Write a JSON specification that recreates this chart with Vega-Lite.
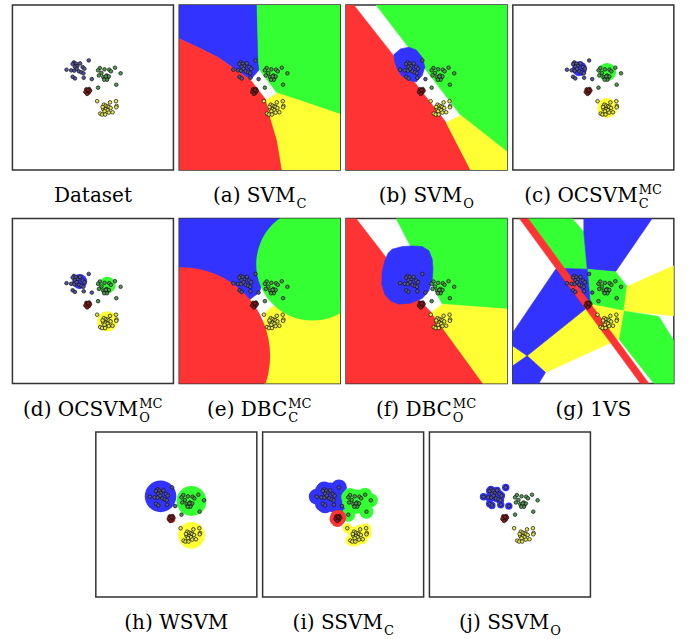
{
"$schema": "https://vega.github.io/schema/vega-lite/v6.json",
"padding": {"left": 11, "top": 4, "right": 0, "bottom": 0},
"background": "white",
"spacing": 5.5,
"center": true,
"config": {"view": {"stroke": "#333", "strokeWidth": 1.5}},
"datasets": {
"pts": [
{"c":"b","x":47.4,"y":33.6},{"c":"b","x":38.2,"y":34.8},{"c":"b","x":37.4,"y":35.8},{"c":"b","x":39.5,"y":35.6},{"c":"b","x":42.0,"y":35.4},{"c":"b","x":40.3,"y":37.0},{"c":"b","x":38.8,"y":37.4},{"c":"b","x":43.6,"y":37.6},{"c":"b","x":44.7,"y":38.6},{"c":"b","x":33.6,"y":39.2},{"c":"b","x":36.5,"y":39.6},{"c":"b","x":38.4,"y":39.8},{"c":"b","x":39.9,"y":38.6},{"c":"b","x":41.3,"y":40.2},{"c":"b","x":42.8,"y":40.8},{"c":"b","x":44.1,"y":41.4},{"c":"b","x":37.4,"y":43.5},{"c":"b","x":38.8,"y":44.5},{"c":"b","x":44.3,"y":44.1},{"c":"b","x":49.3,"y":44.9},
{"c":"g","x":54.3,"y":38.2},{"c":"g","x":53.2,"y":39.6},{"c":"g","x":57.2,"y":39.0},{"c":"g","x":60.1,"y":39.2},{"c":"g","x":61.2,"y":40.2},{"c":"g","x":63.7,"y":38.0},{"c":"g","x":67.2,"y":41.4},{"c":"g","x":55.3,"y":41.2},{"c":"g","x":53.7,"y":42.7},{"c":"g","x":56.4,"y":43.7},{"c":"g","x":57.4,"y":44.7},{"c":"g","x":58.5,"y":42.7},{"c":"g","x":59.1,"y":44.1},{"c":"g","x":59.9,"y":43.3},{"c":"g","x":58.0,"y":43.3},{"c":"g","x":58.7,"y":45.3},{"c":"g","x":57.0,"y":45.3},{"c":"g","x":64.5,"y":48.3},{"c":"g","x":53.2,"y":50.1},
{"c":"r","x":45.9,"y":51.1},{"c":"r","x":47.6,"y":50.9},{"c":"r","x":46.6,"y":52.1},{"c":"r","x":45.3,"y":52.7},{"c":"r","x":47.4,"y":53.1},{"c":"r","x":46.4,"y":53.9},{"c":"r","x":48.2,"y":51.9},{"c":"r","x":47.0,"y":51.5},
{"c":"y","x":52.6,"y":58.3},{"c":"y","x":60.6,"y":59.0},{"c":"y","x":64.3,"y":58.3},{"c":"y","x":56.8,"y":60.4},{"c":"y","x":58.0,"y":61.0},{"c":"y","x":59.1,"y":61.4},{"c":"y","x":59.9,"y":61.8},{"c":"y","x":61.0,"y":62.4},{"c":"y","x":64.7,"y":61.2},{"c":"y","x":64.5,"y":62.0},{"c":"y","x":56.4,"y":63.0},{"c":"y","x":58.0,"y":63.2},{"c":"y","x":59.1,"y":63.8},{"c":"y","x":57.2,"y":64.4},{"c":"y","x":54.5,"y":65.8},{"c":"y","x":55.7,"y":66.4},{"c":"y","x":59.9,"y":65.2},{"c":"y","x":62.2,"y":65.0},{"c":"y","x":57.6,"y":66.4},{"c":"y","x":56.0,"y":61.8}
],
"circ": [
{"p":"c","c":"b","x":41.4,"y":38.6,"r":4.6},{"p":"c","c":"g","x":58.6,"y":40.6,"r":5.6},{"p":"c","c":"y","x":58.6,"y":62.4,"r":6.2},{"p":"c","c":"r","x":46.8,"y":52.7,"r":1.8},
{"p":"d","c":"b","x":41.8,"y":38.2,"r":4.6},{"p":"d","c":"g","x":58.9,"y":40.4,"r":5.2},{"p":"d","c":"y","x":58.9,"y":62.4,"r":6.3},{"p":"d","c":"r","x":47.0,"y":52.5,"r":1.9},
{"p":"e","c":"r","x":1.45,"y":83.2,"r":55},{"p":"e","c":"g","x":82.8,"y":27.7,"r":35},
{"p":"h","c":"b","x":40.2,"y":39.0,"r":9.8},{"p":"h","c":"g","x":59.4,"y":41.8,"r":9.3},{"p":"h","c":"y","x":59.4,"y":62.6,"r":8.3},{"p":"h","c":"r","x":46.9,"y":52.7,"r":2.5}
],
"cap": [
{"p":"ds","t":"Dataset","sub":"","sup":""},
{"p":"a","t":"(a) SVM","sub":"C","sup":""},
{"p":"b","t":"(b) SVM","sub":"O","sup":""},
{"p":"c","t":"(c) OCSVM","sub":"C","sup":"MC"},
{"p":"d","t":"(d) OCSVM","sub":"O","sup":"MC"},
{"p":"e","t":"(e) DBC","sub":"C","sup":"MC"},
{"p":"f","t":"(f) DBC","sub":"O","sup":"MC"},
{"p":"g","t":"(g) 1VS","sub":"","sup":""},
{"p":"h","t":"(h) WSVM","sub":"","sup":""},
{"p":"i","t":"(i) SSVM","sub":"C","sup":""},
{"p":"j","t":"(j) SSVM","sub":"O","sup":""}
],
"poly": [
{"p":"a","id":"a1","c":"b","o":0,"x":0,"y":0},{"p":"a","id":"a1","c":"b","o":1,"x":48.3,"y":0},{"p":"a","id":"a1","c":"b","o":2,"x":48.8,"y":17.5},{"p":"a","id":"a1","c":"b","o":3,"x":49.2,"y":33.6},{"p":"a","id":"a1","c":"b","o":4,"x":49.8,"y":39.2},{"p":"a","id":"a1","c":"b","o":5,"x":44.2,"y":45.3},{"p":"a","id":"a1","c":"b","o":6,"x":34.2,"y":38.6},{"p":"a","id":"a1","c":"b","o":7,"x":23.9,"y":31.6},{"p":"a","id":"a1","c":"b","o":8,"x":11.4,"y":25.6},{"p":"a","id":"a1","c":"b","o":9,"x":0,"y":20.5},
{"p":"a","id":"a2","c":"g","o":0,"x":48.3,"y":0},{"p":"a","id":"a2","c":"g","o":1,"x":100,"y":0},{"p":"a","id":"a2","c":"g","o":2,"x":100,"y":66.2},{"p":"a","id":"a2","c":"g","o":3,"x":77.8,"y":58.8},{"p":"a","id":"a2","c":"g","o":4,"x":60.8,"y":53.3},{"p":"a","id":"a2","c":"g","o":5,"x":49.8,"y":39.2},{"p":"a","id":"a2","c":"g","o":6,"x":49.2,"y":33.6},{"p":"a","id":"a2","c":"g","o":7,"x":48.8,"y":17.5},
{"p":"a","id":"a3","c":"r","o":0,"x":0,"y":20.5},{"p":"a","id":"a3","c":"r","o":1,"x":11.4,"y":25.6},{"p":"a","id":"a3","c":"r","o":2,"x":23.9,"y":31.6},{"p":"a","id":"a3","c":"r","o":3,"x":34.2,"y":38.6},{"p":"a","id":"a3","c":"r","o":4,"x":44.2,"y":45.3},{"p":"a","id":"a3","c":"r","o":5,"x":54,"y":57.7},{"p":"a","id":"a3","c":"r","o":6,"x":57.1,"y":69.8},{"p":"a","id":"a3","c":"r","o":7,"x":60.8,"y":81.9},{"p":"a","id":"a3","c":"r","o":8,"x":63.9,"y":100},{"p":"a","id":"a3","c":"r","o":9,"x":0,"y":100},
{"p":"a","id":"a4","c":"y","o":0,"x":54,"y":57.7},{"p":"a","id":"a4","c":"y","o":1,"x":60.8,"y":53.3},{"p":"a","id":"a4","c":"y","o":2,"x":77.8,"y":58.8},{"p":"a","id":"a4","c":"y","o":3,"x":100,"y":66.2},{"p":"a","id":"a4","c":"y","o":4,"x":100,"y":100},{"p":"a","id":"a4","c":"y","o":5,"x":63.9,"y":100},{"p":"a","id":"a4","c":"y","o":6,"x":60.8,"y":81.9},{"p":"a","id":"a4","c":"y","o":7,"x":57.1,"y":69.8},
{"p":"b","id":"b1","c":"r","o":0,"x":0,"y":0},{"p":"b","id":"b1","c":"r","o":1,"x":4.8,"y":0},{"p":"b","id":"b1","c":"r","o":2,"x":62.3,"y":71.4},{"p":"b","id":"b1","c":"r","o":3,"x":77.4,"y":100},{"p":"b","id":"b1","c":"r","o":4,"x":0,"y":100},
{"p":"b","id":"b2","c":"g","o":0,"x":18.7,"y":0},{"p":"b","id":"b2","c":"g","o":1,"x":100,"y":0},{"p":"b","id":"b2","c":"g","o":2,"x":100,"y":88.9},{"p":"b","id":"b2","c":"g","o":3,"x":71.2,"y":66.8},
{"p":"b","id":"b3","c":"y","o":0,"x":62.3,"y":71.4},{"p":"b","id":"b3","c":"y","o":1,"x":71.2,"y":66.8},{"p":"b","id":"b3","c":"y","o":2,"x":100,"y":88.9},{"p":"b","id":"b3","c":"y","o":3,"x":100,"y":100},{"p":"b","id":"b3","c":"y","o":4,"x":77.4,"y":100},
{"p":"b","id":"b4","c":"b","o":0,"x":29.7,"y":30.0},{"p":"b","id":"b4","c":"b","o":1,"x":33.8,"y":26.6},{"p":"b","id":"b4","c":"b","o":2,"x":39.0,"y":25.6},{"p":"b","id":"b4","c":"b","o":3,"x":43.6,"y":27.2},{"p":"b","id":"b4","c":"b","o":4,"x":47.3,"y":31.6},{"p":"b","id":"b4","c":"b","o":5,"x":49.0,"y":37.6},{"p":"b","id":"b4","c":"b","o":6,"x":47.3,"y":42.7},{"p":"b","id":"b4","c":"b","o":7,"x":43.6,"y":46.7},{"p":"b","id":"b4","c":"b","o":8,"x":39.0,"y":45.7},{"p":"b","id":"b4","c":"b","o":9,"x":34.4,"y":42.7},{"p":"b","id":"b4","c":"b","o":10,"x":31.7,"y":38.6},{"p":"b","id":"b4","c":"b","o":11,"x":30.3,"y":34.6},
{"p":"e","id":"e1","c":"b","o":0,"x":0,"y":0},{"p":"e","id":"e1","c":"b","o":1,"x":62,"y":0},{"p":"e","id":"e1","c":"b","o":2,"x":55,"y":30},{"p":"e","id":"e1","c":"b","o":3,"x":49.7,"y":44.8},{"p":"e","id":"e1","c":"b","o":4,"x":45.5,"y":47.9},{"p":"e","id":"e1","c":"b","o":5,"x":30,"y":60},{"p":"e","id":"e1","c":"b","o":6,"x":0,"y":60},
{"p":"e","id":"e2","c":"y","o":0,"x":53.8,"y":57.0},{"p":"e","id":"e2","c":"y","o":1,"x":56.9,"y":54.0},{"p":"e","id":"e2","c":"y","o":2,"x":70,"y":50},{"p":"e","id":"e2","c":"y","o":3,"x":100,"y":50},{"p":"e","id":"e2","c":"y","o":4,"x":100,"y":100},{"p":"e","id":"e2","c":"y","o":5,"x":53,"y":100},{"p":"e","id":"e2","c":"y","o":6,"x":50,"y":75},
{"p":"f","id":"f1","c":"r","o":0,"x":0,"y":0},{"p":"f","id":"f1","c":"r","o":1,"x":6.2,"y":0},{"p":"f","id":"f1","c":"r","o":2,"x":45.2,"y":49.3},{"p":"f","id":"f1","c":"r","o":3,"x":53,"y":57},{"p":"f","id":"f1","c":"r","o":4,"x":85.1,"y":100},{"p":"f","id":"f1","c":"r","o":5,"x":0,"y":100},
{"p":"f","id":"f2","c":"g","o":0,"x":31.1,"y":0},{"p":"f","id":"f2","c":"g","o":1,"x":100,"y":0},{"p":"f","id":"f2","c":"g","o":2,"x":100,"y":54.9},{"p":"f","id":"f2","c":"g","o":3,"x":59.8,"y":51.9},{"p":"f","id":"f2","c":"g","o":4,"x":53.5,"y":39.8},{"p":"f","id":"f2","c":"g","o":5,"x":40,"y":16.6},
{"p":"f","id":"f3","c":"y","o":0,"x":53,"y":57},{"p":"f","id":"f3","c":"y","o":1,"x":59.8,"y":51.9},{"p":"f","id":"f3","c":"y","o":2,"x":100,"y":54.9},{"p":"f","id":"f3","c":"y","o":3,"x":100,"y":100},{"p":"f","id":"f3","c":"y","o":4,"x":85.1,"y":100},
{"p":"f","id":"f4","c":"b","o":0,"x":28.6,"y":18.6},{"p":"f","id":"f4","c":"b","o":1,"x":34.9,"y":17.0},{"p":"f","id":"f4","c":"b","o":2,"x":41.1,"y":16.6},{"p":"f","id":"f4","c":"b","o":3,"x":47.3,"y":17.0},{"p":"f","id":"f4","c":"b","o":4,"x":51.5,"y":19.6},{"p":"f","id":"f4","c":"b","o":5,"x":53.5,"y":24.6},{"p":"f","id":"f4","c":"b","o":6,"x":54.0,"y":30.7},{"p":"f","id":"f4","c":"b","o":7,"x":53.5,"y":37.8},{"p":"f","id":"f4","c":"b","o":8,"x":51.5,"y":43.8},{"p":"f","id":"f4","c":"b","o":9,"x":47.3,"y":48.5},{"p":"f","id":"f4","c":"b","o":10,"x":40.0,"y":51.3},{"p":"f","id":"f4","c":"b","o":11,"x":32.8,"y":51.9},{"p":"f","id":"f4","c":"b","o":12,"x":27.6,"y":49.9},{"p":"f","id":"f4","c":"b","o":13,"x":24.1,"y":45.9},{"p":"f","id":"f4","c":"b","o":14,"x":22.2,"y":39.8},{"p":"f","id":"f4","c":"b","o":15,"x":22.4,"y":32.7},{"p":"f","id":"f4","c":"b","o":16,"x":24.1,"y":25.7},{"p":"f","id":"f4","c":"b","o":17,"x":26.1,"y":21.0},
{"p":"g","id":"g01","c":"g","o":0,"x":9.5,"y":0},{"p":"g","id":"g01","c":"g","o":1,"x":36.8,"y":0},{"p":"g","id":"g01","c":"g","o":2,"x":44.1,"y":8.1},{"p":"g","id":"g01","c":"g","o":3,"x":46.2,"y":30.7},{"p":"g","id":"g01","c":"g","o":4,"x":32.3,"y":30.3},
{"p":"g","id":"g02","c":"b","o":0,"x":44.1,"y":0},{"p":"g","id":"g02","c":"b","o":1,"x":86.5,"y":0},{"p":"g","id":"g02","c":"b","o":2,"x":63.8,"y":32.3},{"p":"g","id":"g02","c":"b","o":3,"x":46.2,"y":30.7},{"p":"g","id":"g02","c":"b","o":4,"x":44.1,"y":8.1},
{"p":"g","id":"g03","c":"g","o":0,"x":46.2,"y":30.7},{"p":"g","id":"g03","c":"g","o":1,"x":63.8,"y":32.3},{"p":"g","id":"g03","c":"g","o":2,"x":71.0,"y":41.2},{"p":"g","id":"g03","c":"g","o":3,"x":68.9,"y":56.0},{"p":"g","id":"g03","c":"g","o":4,"x":48.2,"y":51.9},
{"p":"g","id":"g04","c":"y","o":0,"x":71.0,"y":41.2},{"p":"g","id":"g04","c":"y","o":1,"x":100,"y":28.7},{"p":"g","id":"g04","c":"y","o":2,"x":100,"y":59.0},{"p":"g","id":"g04","c":"y","o":3,"x":68.9,"y":56.0},
{"p":"g","id":"g05","c":"g","o":0,"x":68.9,"y":56.0},{"p":"g","id":"g05","c":"g","o":1,"x":90.7,"y":59.4},{"p":"g","id":"g05","c":"g","o":2,"x":100,"y":74.1},{"p":"g","id":"g05","c":"g","o":3,"x":100,"y":100},{"p":"g","id":"g05","c":"g","o":4,"x":87.6,"y":100},{"p":"g","id":"g05","c":"g","o":5,"x":65.8,"y":73.1},
{"p":"g","id":"g06","c":"y","o":0,"x":48.2,"y":51.9},{"p":"g","id":"g06","c":"y","o":1,"x":68.9,"y":56.0},{"p":"g","id":"g06","c":"y","o":2,"x":65.8,"y":73.1},{"p":"g","id":"g06","c":"y","o":3,"x":20.3,"y":93.3},{"p":"g","id":"g06","c":"y","o":4,"x":8.9,"y":83.2},{"p":"g","id":"g06","c":"y","o":5,"x":45.1,"y":54.9},
{"p":"g","id":"g07","c":"y","o":0,"x":0,"y":77.2},{"p":"g","id":"g07","c":"y","o":1,"x":8.9,"y":83.2},{"p":"g","id":"g07","c":"y","o":2,"x":0,"y":89.3},
{"p":"g","id":"g08","c":"b","o":0,"x":0,"y":89.3},{"p":"g","id":"g08","c":"b","o":1,"x":8.9,"y":83.2},{"p":"g","id":"g08","c":"b","o":2,"x":20.3,"y":93.3},{"p":"g","id":"g08","c":"b","o":3,"x":16.1,"y":100},{"p":"g","id":"g08","c":"b","o":4,"x":0,"y":100},
{"p":"g","id":"g09","c":"b","o":0,"x":0,"y":69.1},{"p":"g","id":"g09","c":"b","o":1,"x":26.9,"y":30.3},{"p":"g","id":"g09","c":"b","o":2,"x":32.3,"y":30.3},{"p":"g","id":"g09","c":"b","o":3,"x":46.2,"y":30.7},{"p":"g","id":"g09","c":"b","o":4,"x":48.2,"y":51.9},{"p":"g","id":"g09","c":"b","o":5,"x":45.1,"y":54.9},{"p":"g","id":"g09","c":"b","o":6,"x":8.9,"y":83.2},{"p":"g","id":"g09","c":"b","o":7,"x":0,"y":77.2},
{"p":"g","id":"gz","c":"r","o":0,"x":4.1,"y":0},{"p":"g","id":"gz","c":"r","o":1,"x":9.5,"y":0},{"p":"g","id":"gz","c":"r","o":2,"x":84.5,"y":100},{"p":"g","id":"gz","c":"r","o":3,"x":79.3,"y":100}
]
},
"vconcat": [
{"hconcat": [
 {"width":161,"height":165,"layer":[
  {"data":{"name":"pts"},"mark":{"type":"point","shape":"circle","filled":true,"size":13,"opacity":1,"stroke":"#111","strokeWidth":0.7},"encoding":{"x":{"field":"x","type":"quantitative","scale":{"domain":[0,100],"nice":false,"zero":false},"axis":null},"y":{"field":"y","type":"quantitative","scale":{"domain":[0,100],"nice":false,"zero":false,"reverse":true},"axis":null},"color":{"field":"c","type":"nominal","scale":{"domain":["b","g","r","y"],"range":["#55559f","#4e9a4e","#8b1a1a","#e6e64a"]},"legend":null}}},
  {"data":{"name":"cap"},"transform":[{"filter":"datum.p=='ds'"}],"mark":{"type":"text","align":"center","baseline":"alphabetic","font":"DejaVu Serif","fontSize":20,"color":"#000"},"encoding":{"x":{"datum":50,"type":"quantitative","scale":{"domain":[0,100],"nice":false,"zero":false},"axis":null},"y":{"datum":119.5,"type":"quantitative","scale":{"domain":[0,100],"nice":false,"zero":false,"reverse":true},"axis":null},"text":{"field":"t"}}}
 ]},
 {"width":161,"height":165,"layer":[
  {"data":{"name":"poly"},"transform":[{"filter":"datum.p=='a'"}],"mark":{"type":"line","interpolate":"linear-closed","strokeWidth":0.6,"clip":true},"encoding":{"x":{"field":"x","type":"quantitative","scale":{"domain":[0,100],"nice":false,"zero":false},"axis":null},"y":{"field":"y","type":"quantitative","scale":{"domain":[0,100],"nice":false,"zero":false,"reverse":true},"axis":null},"detail":{"field":"id","type":"nominal"},"order":{"field":"o","type":"quantitative"},"fill":{"field":"c","type":"nominal","scale":{"domain":["b","g","r","y"],"range":["#3333ff","#33ff33","#ff3333","#ffff33"]},"legend":null},"stroke":{"field":"c","type":"nominal","scale":{"domain":["b","g","r","y"],"range":["#3333ff","#33ff33","#ff3333","#ffff33"]},"legend":null}}},
  {"data":{"name":"pts"},"mark":{"type":"point","shape":"circle","filled":true,"size":13,"opacity":1,"stroke":"#111","strokeWidth":0.7},"encoding":{"x":{"field":"x","type":"quantitative","scale":{"domain":[0,100],"nice":false,"zero":false},"axis":null},"y":{"field":"y","type":"quantitative","scale":{"domain":[0,100],"nice":false,"zero":false,"reverse":true},"axis":null},"color":{"field":"c","type":"nominal","scale":{"domain":["b","g","r","y"],"range":["#55559f","#4e9a4e","#8b1a1a","#e6e64a"]},"legend":null}}},
  {"data":{"name":"cap"},"transform":[{"filter":"datum.p=='a'"}],"mark":{"type":"text","align":"right","baseline":"alphabetic","dx":35.7,"font":"DejaVu Serif","fontSize":20,"color":"#000"},"encoding":{"x":{"datum":50,"type":"quantitative","scale":{"domain":[0,100],"nice":false,"zero":false},"axis":null},"y":{"datum":119.5,"type":"quantitative","scale":{"domain":[0,100],"nice":false,"zero":false,"reverse":true},"axis":null},"text":{"field":"t"}}},
  {"data":{"name":"cap"},"transform":[{"filter":"datum.p=='a'"}],"mark":{"type":"text","align":"left","baseline":"alphabetic","dx":36.7,"dy":6,"font":"DejaVu Serif","fontSize":13,"color":"#000"},"encoding":{"x":{"datum":50,"type":"quantitative","scale":{"domain":[0,100],"nice":false,"zero":false},"axis":null},"y":{"datum":119.5,"type":"quantitative","scale":{"domain":[0,100],"nice":false,"zero":false,"reverse":true},"axis":null},"text":{"field":"sub"}}}
 ]},
 {"width":161,"height":165,"layer":[
  {"data":{"name":"poly"},"transform":[{"filter":"datum.p=='b'"}],"mark":{"type":"line","interpolate":"linear-closed","strokeWidth":0.6,"clip":true},"encoding":{"x":{"field":"x","type":"quantitative","scale":{"domain":[0,100],"nice":false,"zero":false},"axis":null},"y":{"field":"y","type":"quantitative","scale":{"domain":[0,100],"nice":false,"zero":false,"reverse":true},"axis":null},"detail":{"field":"id","type":"nominal"},"order":{"field":"o","type":"quantitative"},"fill":{"field":"c","type":"nominal","scale":{"domain":["b","g","r","y"],"range":["#3333ff","#33ff33","#ff3333","#ffff33"]},"legend":null},"stroke":{"field":"c","type":"nominal","scale":{"domain":["b","g","r","y"],"range":["#3333ff","#33ff33","#ff3333","#ffff33"]},"legend":null}}},
  {"data":{"name":"pts"},"mark":{"type":"point","shape":"circle","filled":true,"size":13,"opacity":1,"stroke":"#111","strokeWidth":0.7},"encoding":{"x":{"field":"x","type":"quantitative","scale":{"domain":[0,100],"nice":false,"zero":false},"axis":null},"y":{"field":"y","type":"quantitative","scale":{"domain":[0,100],"nice":false,"zero":false,"reverse":true},"axis":null},"color":{"field":"c","type":"nominal","scale":{"domain":["b","g","r","y"],"range":["#55559f","#4e9a4e","#8b1a1a","#e6e64a"]},"legend":null}}},
  {"data":{"name":"cap"},"transform":[{"filter":"datum.p=='b'"}],"mark":{"type":"text","align":"right","baseline":"alphabetic","dx":35.6,"font":"DejaVu Serif","fontSize":20,"color":"#000"},"encoding":{"x":{"datum":50,"type":"quantitative","scale":{"domain":[0,100],"nice":false,"zero":false},"axis":null},"y":{"datum":119.5,"type":"quantitative","scale":{"domain":[0,100],"nice":false,"zero":false,"reverse":true},"axis":null},"text":{"field":"t"}}},
  {"data":{"name":"cap"},"transform":[{"filter":"datum.p=='b'"}],"mark":{"type":"text","align":"left","baseline":"alphabetic","dx":36.6,"dy":6,"font":"DejaVu Serif","fontSize":13,"color":"#000"},"encoding":{"x":{"datum":50,"type":"quantitative","scale":{"domain":[0,100],"nice":false,"zero":false},"axis":null},"y":{"datum":119.5,"type":"quantitative","scale":{"domain":[0,100],"nice":false,"zero":false,"reverse":true},"axis":null},"text":{"field":"sub"}}}
 ]},
 {"width":161,"height":165,"layer":[
  {"data":{"name":"circ"},"transform":[{"filter":"datum.p=='c'"}],"mark":{"type":"point","shape":"circle","filled":true,"opacity":1,"clip":true,"strokeWidth":0},"encoding":{"x":{"field":"x","type":"quantitative","scale":{"domain":[0,100],"nice":false,"zero":false},"axis":null},"y":{"field":"y","type":"quantitative","scale":{"domain":[0,100],"nice":false,"zero":false,"reverse":true},"axis":null},"fill":{"field":"c","type":"nominal","scale":{"domain":["b","g","r","y"],"range":["#3333ff","#33ff33","#ff3333","#ffff33"]},"legend":null},"size":{"field":"r","type":"quantitative","scale":{"type":"pow","exponent":2,"domain":[0,100],"range":[0,103684]},"legend":null}}},
  {"data":{"name":"pts"},"mark":{"type":"point","shape":"circle","filled":true,"size":13,"opacity":1,"stroke":"#111","strokeWidth":0.7},"encoding":{"x":{"field":"x","type":"quantitative","scale":{"domain":[0,100],"nice":false,"zero":false},"axis":null},"y":{"field":"y","type":"quantitative","scale":{"domain":[0,100],"nice":false,"zero":false,"reverse":true},"axis":null},"color":{"field":"c","type":"nominal","scale":{"domain":["b","g","r","y"],"range":["#55559f","#4e9a4e","#8b1a1a","#e6e64a"]},"legend":null}}},
  {"data":{"name":"cap"},"transform":[{"filter":"datum.p=='c'"}],"mark":{"type":"text","align":"right","baseline":"alphabetic","dx":44.4,"font":"DejaVu Serif","fontSize":20,"color":"#000"},"encoding":{"x":{"datum":50,"type":"quantitative","scale":{"domain":[0,100],"nice":false,"zero":false},"axis":null},"y":{"datum":119.5,"type":"quantitative","scale":{"domain":[0,100],"nice":false,"zero":false,"reverse":true},"axis":null},"text":{"field":"t"}}},
  {"data":{"name":"cap"},"transform":[{"filter":"datum.p=='c'"}],"mark":{"type":"text","align":"left","baseline":"alphabetic","dx":45.4,"dy":6,"font":"DejaVu Serif","fontSize":13,"color":"#000"},"encoding":{"x":{"datum":50,"type":"quantitative","scale":{"domain":[0,100],"nice":false,"zero":false},"axis":null},"y":{"datum":119.5,"type":"quantitative","scale":{"domain":[0,100],"nice":false,"zero":false,"reverse":true},"axis":null},"text":{"field":"sub"}}},
  {"data":{"name":"cap"},"transform":[{"filter":"datum.p=='c'"}],"mark":{"type":"text","align":"left","baseline":"alphabetic","dx":45.4,"dy":-8,"font":"DejaVu Serif","fontSize":13,"color":"#000"},"encoding":{"x":{"datum":50,"type":"quantitative","scale":{"domain":[0,100],"nice":false,"zero":false},"axis":null},"y":{"datum":119.5,"type":"quantitative","scale":{"domain":[0,100],"nice":false,"zero":false,"reverse":true},"axis":null},"text":{"field":"sup"}}}
 ]}
], "spacing": 5.8, "bounds": "flush"},
{"hconcat": [
 {"width":161,"height":165,"layer":[
  {"data":{"name":"circ"},"transform":[{"filter":"datum.p=='d'"}],"mark":{"type":"point","shape":"circle","filled":true,"opacity":1,"clip":true,"strokeWidth":0},"encoding":{"x":{"field":"x","type":"quantitative","scale":{"domain":[0,100],"nice":false,"zero":false},"axis":null},"y":{"field":"y","type":"quantitative","scale":{"domain":[0,100],"nice":false,"zero":false,"reverse":true},"axis":null},"fill":{"field":"c","type":"nominal","scale":{"domain":["b","g","r","y"],"range":["#3333ff","#33ff33","#ff3333","#ffff33"]},"legend":null},"size":{"field":"r","type":"quantitative","scale":{"type":"pow","exponent":2,"domain":[0,100],"range":[0,103684]},"legend":null}}},
  {"data":{"name":"pts"},"mark":{"type":"point","shape":"circle","filled":true,"size":13,"opacity":1,"stroke":"#111","strokeWidth":0.7},"encoding":{"x":{"field":"x","type":"quantitative","scale":{"domain":[0,100],"nice":false,"zero":false},"axis":null},"y":{"field":"y","type":"quantitative","scale":{"domain":[0,100],"nice":false,"zero":false,"reverse":true},"axis":null},"color":{"field":"c","type":"nominal","scale":{"domain":["b","g","r","y"],"range":["#55559f","#4e9a4e","#8b1a1a","#e6e64a"]},"legend":null}}},
  {"data":{"name":"cap"},"transform":[{"filter":"datum.p=='d'"}],"mark":{"type":"text","align":"right","baseline":"alphabetic","dx":45.2,"font":"DejaVu Serif","fontSize":20,"color":"#000"},"encoding":{"x":{"datum":50,"type":"quantitative","scale":{"domain":[0,100],"nice":false,"zero":false},"axis":null},"y":{"datum":119.5,"type":"quantitative","scale":{"domain":[0,100],"nice":false,"zero":false,"reverse":true},"axis":null},"text":{"field":"t"}}},
  {"data":{"name":"cap"},"transform":[{"filter":"datum.p=='d'"}],"mark":{"type":"text","align":"left","baseline":"alphabetic","dx":46.2,"dy":6,"font":"DejaVu Serif","fontSize":13,"color":"#000"},"encoding":{"x":{"datum":50,"type":"quantitative","scale":{"domain":[0,100],"nice":false,"zero":false},"axis":null},"y":{"datum":119.5,"type":"quantitative","scale":{"domain":[0,100],"nice":false,"zero":false,"reverse":true},"axis":null},"text":{"field":"sub"}}},
  {"data":{"name":"cap"},"transform":[{"filter":"datum.p=='d'"}],"mark":{"type":"text","align":"left","baseline":"alphabetic","dx":46.2,"dy":-8,"font":"DejaVu Serif","fontSize":13,"color":"#000"},"encoding":{"x":{"datum":50,"type":"quantitative","scale":{"domain":[0,100],"nice":false,"zero":false},"axis":null},"y":{"datum":119.5,"type":"quantitative","scale":{"domain":[0,100],"nice":false,"zero":false,"reverse":true},"axis":null},"text":{"field":"sup"}}}
 ]},
 {"width":161,"height":165,"layer":[
  {"data":{"name":"poly"},"transform":[{"filter":"datum.p=='e'"}],"mark":{"type":"line","interpolate":"linear-closed","strokeWidth":0.6,"clip":true},"encoding":{"x":{"field":"x","type":"quantitative","scale":{"domain":[0,100],"nice":false,"zero":false},"axis":null},"y":{"field":"y","type":"quantitative","scale":{"domain":[0,100],"nice":false,"zero":false,"reverse":true},"axis":null},"detail":{"field":"id","type":"nominal"},"order":{"field":"o","type":"quantitative"},"fill":{"field":"c","type":"nominal","scale":{"domain":["b","g","r","y"],"range":["#3333ff","#33ff33","#ff3333","#ffff33"]},"legend":null},"stroke":{"field":"c","type":"nominal","scale":{"domain":["b","g","r","y"],"range":["#3333ff","#33ff33","#ff3333","#ffff33"]},"legend":null}}},
  {"data":{"name":"circ"},"transform":[{"filter":"datum.p=='e'"}],"mark":{"type":"point","shape":"circle","filled":true,"opacity":1,"clip":true,"strokeWidth":0},"encoding":{"x":{"field":"x","type":"quantitative","scale":{"domain":[0,100],"nice":false,"zero":false},"axis":null},"y":{"field":"y","type":"quantitative","scale":{"domain":[0,100],"nice":false,"zero":false,"reverse":true},"axis":null},"fill":{"field":"c","type":"nominal","scale":{"domain":["b","g","r","y"],"range":["#3333ff","#33ff33","#ff3333","#ffff33"]},"legend":null},"size":{"field":"r","type":"quantitative","scale":{"type":"pow","exponent":2,"domain":[0,100],"range":[0,103684]},"legend":null}}},
  {"data":{"name":"pts"},"mark":{"type":"point","shape":"circle","filled":true,"size":13,"opacity":1,"stroke":"#111","strokeWidth":0.7},"encoding":{"x":{"field":"x","type":"quantitative","scale":{"domain":[0,100],"nice":false,"zero":false},"axis":null},"y":{"field":"y","type":"quantitative","scale":{"domain":[0,100],"nice":false,"zero":false,"reverse":true},"axis":null},"color":{"field":"c","type":"nominal","scale":{"domain":["b","g","r","y"],"range":["#55559f","#4e9a4e","#8b1a1a","#e6e64a"]},"legend":null}}},
  {"data":{"name":"cap"},"transform":[{"filter":"datum.p=='e'"}],"mark":{"type":"text","align":"right","baseline":"alphabetic","dx":27.5,"font":"DejaVu Serif","fontSize":20,"color":"#000"},"encoding":{"x":{"datum":50,"type":"quantitative","scale":{"domain":[0,100],"nice":false,"zero":false},"axis":null},"y":{"datum":119.5,"type":"quantitative","scale":{"domain":[0,100],"nice":false,"zero":false,"reverse":true},"axis":null},"text":{"field":"t"}}},
  {"data":{"name":"cap"},"transform":[{"filter":"datum.p=='e'"}],"mark":{"type":"text","align":"left","baseline":"alphabetic","dx":28.5,"dy":6,"font":"DejaVu Serif","fontSize":13,"color":"#000"},"encoding":{"x":{"datum":50,"type":"quantitative","scale":{"domain":[0,100],"nice":false,"zero":false},"axis":null},"y":{"datum":119.5,"type":"quantitative","scale":{"domain":[0,100],"nice":false,"zero":false,"reverse":true},"axis":null},"text":{"field":"sub"}}},
  {"data":{"name":"cap"},"transform":[{"filter":"datum.p=='e'"}],"mark":{"type":"text","align":"left","baseline":"alphabetic","dx":28.5,"dy":-8,"font":"DejaVu Serif","fontSize":13,"color":"#000"},"encoding":{"x":{"datum":50,"type":"quantitative","scale":{"domain":[0,100],"nice":false,"zero":false},"axis":null},"y":{"datum":119.5,"type":"quantitative","scale":{"domain":[0,100],"nice":false,"zero":false,"reverse":true},"axis":null},"text":{"field":"sup"}}}
 ]},
 {"width":161,"height":165,"layer":[
  {"data":{"name":"poly"},"transform":[{"filter":"datum.p=='f'"}],"mark":{"type":"line","interpolate":"linear-closed","strokeWidth":0.6,"clip":true},"encoding":{"x":{"field":"x","type":"quantitative","scale":{"domain":[0,100],"nice":false,"zero":false},"axis":null},"y":{"field":"y","type":"quantitative","scale":{"domain":[0,100],"nice":false,"zero":false,"reverse":true},"axis":null},"detail":{"field":"id","type":"nominal"},"order":{"field":"o","type":"quantitative"},"fill":{"field":"c","type":"nominal","scale":{"domain":["b","g","r","y"],"range":["#3333ff","#33ff33","#ff3333","#ffff33"]},"legend":null},"stroke":{"field":"c","type":"nominal","scale":{"domain":["b","g","r","y"],"range":["#3333ff","#33ff33","#ff3333","#ffff33"]},"legend":null}}},
  {"data":{"name":"pts"},"mark":{"type":"point","shape":"circle","filled":true,"size":13,"opacity":1,"stroke":"#111","strokeWidth":0.7},"encoding":{"x":{"field":"x","type":"quantitative","scale":{"domain":[0,100],"nice":false,"zero":false},"axis":null},"y":{"field":"y","type":"quantitative","scale":{"domain":[0,100],"nice":false,"zero":false,"reverse":true},"axis":null},"color":{"field":"c","type":"nominal","scale":{"domain":["b","g","r","y"],"range":["#55559f","#4e9a4e","#8b1a1a","#e6e64a"]},"legend":null}}},
  {"data":{"name":"cap"},"transform":[{"filter":"datum.p=='f'"}],"mark":{"type":"text","align":"right","baseline":"alphabetic","dx":25.3,"font":"DejaVu Serif","fontSize":20,"color":"#000"},"encoding":{"x":{"datum":50,"type":"quantitative","scale":{"domain":[0,100],"nice":false,"zero":false},"axis":null},"y":{"datum":119.5,"type":"quantitative","scale":{"domain":[0,100],"nice":false,"zero":false,"reverse":true},"axis":null},"text":{"field":"t"}}},
  {"data":{"name":"cap"},"transform":[{"filter":"datum.p=='f'"}],"mark":{"type":"text","align":"left","baseline":"alphabetic","dx":26.3,"dy":6,"font":"DejaVu Serif","fontSize":13,"color":"#000"},"encoding":{"x":{"datum":50,"type":"quantitative","scale":{"domain":[0,100],"nice":false,"zero":false},"axis":null},"y":{"datum":119.5,"type":"quantitative","scale":{"domain":[0,100],"nice":false,"zero":false,"reverse":true},"axis":null},"text":{"field":"sub"}}},
  {"data":{"name":"cap"},"transform":[{"filter":"datum.p=='f'"}],"mark":{"type":"text","align":"left","baseline":"alphabetic","dx":26.3,"dy":-8,"font":"DejaVu Serif","fontSize":13,"color":"#000"},"encoding":{"x":{"datum":50,"type":"quantitative","scale":{"domain":[0,100],"nice":false,"zero":false},"axis":null},"y":{"datum":119.5,"type":"quantitative","scale":{"domain":[0,100],"nice":false,"zero":false,"reverse":true},"axis":null},"text":{"field":"sup"}}}
 ]},
 {"width":161,"height":165,"layer":[
  {"data":{"name":"poly"},"transform":[{"filter":"datum.p=='g'"}],"mark":{"type":"line","interpolate":"linear-closed","strokeWidth":0.6,"clip":true},"encoding":{"x":{"field":"x","type":"quantitative","scale":{"domain":[0,100],"nice":false,"zero":false},"axis":null},"y":{"field":"y","type":"quantitative","scale":{"domain":[0,100],"nice":false,"zero":false,"reverse":true},"axis":null},"detail":{"field":"id","type":"nominal"},"order":{"field":"o","type":"quantitative"},"fill":{"field":"c","type":"nominal","scale":{"domain":["b","g","r","y"],"range":["#3333ff","#33ff33","#ff3333","#ffff33"]},"legend":null},"stroke":{"field":"c","type":"nominal","scale":{"domain":["b","g","r","y"],"range":["#3333ff","#33ff33","#ff3333","#ffff33"]},"legend":null}}},
  {"data":{"name":"pts"},"mark":{"type":"point","shape":"circle","filled":true,"size":13,"opacity":1,"stroke":"#111","strokeWidth":0.7},"encoding":{"x":{"field":"x","type":"quantitative","scale":{"domain":[0,100],"nice":false,"zero":false},"axis":null},"y":{"field":"y","type":"quantitative","scale":{"domain":[0,100],"nice":false,"zero":false,"reverse":true},"axis":null},"color":{"field":"c","type":"nominal","scale":{"domain":["b","g","r","y"],"range":["#55559f","#4e9a4e","#8b1a1a","#e6e64a"]},"legend":null}}},
  {"data":{"name":"cap"},"transform":[{"filter":"datum.p=='g'"}],"mark":{"type":"text","align":"center","baseline":"alphabetic","font":"DejaVu Serif","fontSize":20,"color":"#000"},"encoding":{"x":{"datum":50,"type":"quantitative","scale":{"domain":[0,100],"nice":false,"zero":false},"axis":null},"y":{"datum":119.5,"type":"quantitative","scale":{"domain":[0,100],"nice":false,"zero":false,"reverse":true},"axis":null},"text":{"field":"t"}}}
 ]}
], "spacing": 5.8, "bounds": "flush"},
{"hconcat": [
 {"width":161,"height":165,"layer":[
  {"data":{"name":"circ"},"transform":[{"filter":"datum.p=='h'"}],"mark":{"type":"point","shape":"circle","filled":true,"opacity":1,"clip":true,"strokeWidth":0},"encoding":{"x":{"field":"x","type":"quantitative","scale":{"domain":[0,100],"nice":false,"zero":false},"axis":null},"y":{"field":"y","type":"quantitative","scale":{"domain":[0,100],"nice":false,"zero":false,"reverse":true},"axis":null},"fill":{"field":"c","type":"nominal","scale":{"domain":["b","g","r","y"],"range":["#3333ff","#33ff33","#ff3333","#ffff33"]},"legend":null},"size":{"field":"r","type":"quantitative","scale":{"type":"pow","exponent":2,"domain":[0,100],"range":[0,103684]},"legend":null}}},
  {"data":{"name":"pts"},"mark":{"type":"point","shape":"circle","filled":true,"size":13,"opacity":1,"stroke":"#111","strokeWidth":0.7},"encoding":{"x":{"field":"x","type":"quantitative","scale":{"domain":[0,100],"nice":false,"zero":false},"axis":null},"y":{"field":"y","type":"quantitative","scale":{"domain":[0,100],"nice":false,"zero":false,"reverse":true},"axis":null},"color":{"field":"c","type":"nominal","scale":{"domain":["b","g","r","y"],"range":["#55559f","#4e9a4e","#8b1a1a","#e6e64a"]},"legend":null}}},
  {"data":{"name":"cap"},"transform":[{"filter":"datum.p=='h'"}],"mark":{"type":"text","align":"center","baseline":"alphabetic","font":"DejaVu Serif","fontSize":20,"color":"#000"},"encoding":{"x":{"datum":50,"type":"quantitative","scale":{"domain":[0,100],"nice":false,"zero":false},"axis":null},"y":{"datum":119.5,"type":"quantitative","scale":{"domain":[0,100],"nice":false,"zero":false,"reverse":true},"axis":null},"text":{"field":"t"}}}
 ]},
 {"width":161,"height":165,"layer":[
  {"data":{"name":"pts"},"mark":{"type":"point","shape":"circle","filled":true,"opacity":1,"clip":true,"strokeWidth":0},"encoding":{"x":{"field":"x","type":"quantitative","scale":{"domain":[0,100],"nice":false,"zero":false},"axis":null},"y":{"field":"y","type":"quantitative","scale":{"domain":[0,100],"nice":false,"zero":false,"reverse":true},"axis":null},"fill":{"field":"c","type":"nominal","scale":{"domain":["b","g","r","y"],"range":["#3333ff","#33ff33","#ff3333","#ffff33"]},"legend":null},"size":{"field":"c","type":"ordinal","scale":{"domain":["b","g","r","y"],"range":[250,95,40,65]},"legend":null}}},
  {"data":{"name":"pts"},"mark":{"type":"point","shape":"circle","filled":true,"size":13,"opacity":1,"stroke":"#111","strokeWidth":0.7},"encoding":{"x":{"field":"x","type":"quantitative","scale":{"domain":[0,100],"nice":false,"zero":false},"axis":null},"y":{"field":"y","type":"quantitative","scale":{"domain":[0,100],"nice":false,"zero":false,"reverse":true},"axis":null},"color":{"field":"c","type":"nominal","scale":{"domain":["b","g","r","y"],"range":["#55559f","#4e9a4e","#8b1a1a","#e6e64a"]},"legend":null}}},
  {"data":{"name":"cap"},"transform":[{"filter":"datum.p=='i'"}],"mark":{"type":"text","align":"right","baseline":"alphabetic","dx":39.8,"font":"DejaVu Serif","fontSize":20,"color":"#000"},"encoding":{"x":{"datum":50,"type":"quantitative","scale":{"domain":[0,100],"nice":false,"zero":false},"axis":null},"y":{"datum":119.5,"type":"quantitative","scale":{"domain":[0,100],"nice":false,"zero":false,"reverse":true},"axis":null},"text":{"field":"t"}}},
  {"data":{"name":"cap"},"transform":[{"filter":"datum.p=='i'"}],"mark":{"type":"text","align":"left","baseline":"alphabetic","dx":40.8,"dy":6,"font":"DejaVu Serif","fontSize":13,"color":"#000"},"encoding":{"x":{"datum":50,"type":"quantitative","scale":{"domain":[0,100],"nice":false,"zero":false},"axis":null},"y":{"datum":119.5,"type":"quantitative","scale":{"domain":[0,100],"nice":false,"zero":false,"reverse":true},"axis":null},"text":{"field":"sub"}}}
 ]},
 {"width":161,"height":165,"layer":[
  {"data":{"name":"pts"},"transform":[{"filter":"datum.c=='b'"}],"mark":{"type":"point","shape":"circle","filled":true,"size":55,"opacity":1,"clip":true,"strokeWidth":0},"encoding":{"x":{"field":"x","type":"quantitative","scale":{"domain":[0,100],"nice":false,"zero":false},"axis":null},"y":{"field":"y","type":"quantitative","scale":{"domain":[0,100],"nice":false,"zero":false,"reverse":true},"axis":null},"fill":{"field":"c","type":"nominal","scale":{"domain":["b","g","r","y"],"range":["#3333ff","#33ff33","#ff3333","#ffff33"]},"legend":null}}},
  {"data":{"name":"pts"},"mark":{"type":"point","shape":"circle","filled":true,"size":13,"opacity":1,"stroke":"#111","strokeWidth":0.7},"encoding":{"x":{"field":"x","type":"quantitative","scale":{"domain":[0,100],"nice":false,"zero":false},"axis":null},"y":{"field":"y","type":"quantitative","scale":{"domain":[0,100],"nice":false,"zero":false,"reverse":true},"axis":null},"color":{"field":"c","type":"nominal","scale":{"domain":["b","g","r","y"],"range":["#55559f","#4e9a4e","#8b1a1a","#e6e64a"]},"legend":null}}},
  {"data":{"name":"cap"},"transform":[{"filter":"datum.p=='j'"}],"mark":{"type":"text","align":"right","baseline":"alphabetic","dx":39.2,"font":"DejaVu Serif","fontSize":20,"color":"#000"},"encoding":{"x":{"datum":50,"type":"quantitative","scale":{"domain":[0,100],"nice":false,"zero":false},"axis":null},"y":{"datum":119.5,"type":"quantitative","scale":{"domain":[0,100],"nice":false,"zero":false,"reverse":true},"axis":null},"text":{"field":"t"}}},
  {"data":{"name":"cap"},"transform":[{"filter":"datum.p=='j'"}],"mark":{"type":"text","align":"left","baseline":"alphabetic","dx":40.2,"dy":6,"font":"DejaVu Serif","fontSize":13,"color":"#000"},"encoding":{"x":{"datum":50,"type":"quantitative","scale":{"domain":[0,100],"nice":false,"zero":false},"axis":null},"y":{"datum":119.5,"type":"quantitative","scale":{"domain":[0,100],"nice":false,"zero":false,"reverse":true},"axis":null},"text":{"field":"sub"}}}
 ]}
], "spacing": 5.8, "bounds": "flush"}
]
}
